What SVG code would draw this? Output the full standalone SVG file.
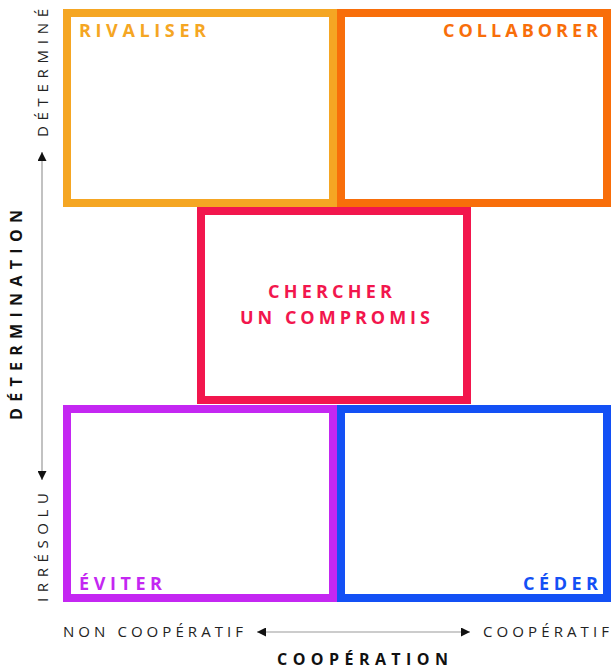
<svg xmlns="http://www.w3.org/2000/svg" width="611" height="670" viewBox="0 0 611 670">
<style>
.box{fill:#fff;stroke-width:8}
.lbl{font-family:"Open Sans","Liberation Sans",sans-serif;font-weight:700;font-size:18px}
.ax{font-family:"Open Sans","Liberation Sans",sans-serif;font-size:15px;fill:#222}
.axb{font-family:"Open Sans","Liberation Sans",sans-serif;font-weight:700;font-size:16px;fill:#111}
.conn{stroke:#999;stroke-width:1.2;fill:none}
</style>
<defs>
<marker id="ah" viewBox="0 0 10 10" refX="10" refY="5" markerWidth="9" markerHeight="9" markerUnits="userSpaceOnUse" orient="auto-start-reverse">
<path d="M0,0 L10,5 L0,10 z" fill="#111"/>
</marker>
</defs>
<rect width="611" height="670" fill="#fff"/>
<g id="rivaliser">
<rect class="box" x="67" y="13" width="266" height="190" stroke="#F5A623"/>
<text class="lbl" x="79" y="37" fill="#F5A623" textLength="127" lengthAdjust="spacing">RIVALISER</text>
</g>
<g id="collaborer">
<rect class="box" x="341" y="13" width="266" height="190" stroke="#F86E0A"/>
<text class="lbl" x="443" y="37" fill="#F86E0A" textLength="155" lengthAdjust="spacing">COLLABORER</text>
</g>
<g id="compromis">
<rect class="box" x="201" y="211" width="266" height="189" stroke="#F2164D"/>
<text class="lbl" x="268" y="298" fill="#F2164D" textLength="124" lengthAdjust="spacing">CHERCHER</text>
<text class="lbl" x="240" y="324" fill="#F2164D" textLength="190" lengthAdjust="spacing">UN COMPROMIS</text>
</g>
<g id="eviter">
<rect class="box" x="67" y="409" width="266" height="189" stroke="#C427F2"/>
<text class="lbl" x="79" y="590" fill="#C427F2" textLength="83" lengthAdjust="spacing">ÉVITER</text>
</g>
<g id="ceder">
<rect class="box" x="341" y="409" width="266" height="189" stroke="#1350F5"/>
<text class="lbl" x="523" y="590" fill="#1350F5" textLength="75" lengthAdjust="spacing">CÉDER</text>
</g>
<g id="connectors">
<line class="conn" x1="42" y1="152" x2="42" y2="480" marker-start="url(#ah)" marker-end="url(#ah)"/>
<line class="conn" x1="257" y1="632" x2="470" y2="632" marker-start="url(#ah)" marker-end="url(#ah)"/>
</g>
<g id="axes">
<text class="ax" transform="translate(48,137) rotate(-90)" textLength="128" lengthAdjust="spacing">DÉTERMINÉ</text>
<text class="ax" transform="translate(48,602) rotate(-90)" textLength="109" lengthAdjust="spacing">IRRÉSOLU</text>
<text class="axb" transform="translate(22,420) rotate(-90)" textLength="210" lengthAdjust="spacing">DÉTERMINATION</text>
<text class="ax" x="63" y="637" textLength="180" lengthAdjust="spacing">NON COOPÉRATIF</text>
<text class="ax" x="483" y="637" textLength="126" lengthAdjust="spacing">COOPÉRATIF</text>
<text class="axb" x="277" y="665" textLength="171" lengthAdjust="spacing">COOPÉRATION</text>
</g>
</svg>
